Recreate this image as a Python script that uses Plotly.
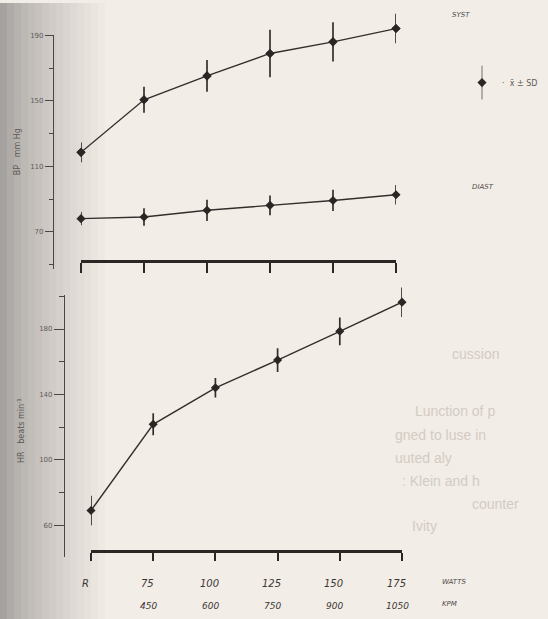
import plotly.graph_objects as go

# ---------------- data ----------------
stages = ["R", "75", "100", "125", "150", "175"]          # work load, watts (R = rest)
kpm = ["", "450", "600", "750", "900", "1050"]             # same loads in kpm
syst_mean = [118.6, 150.7, 165.3, 179.0, 186.1, 194.2]     # systolic BP, mm Hg
syst_sd = [6.0, 8.0, 9.7, 14.5, 12.0, 9.0]
diast_mean = [78.1, 79.1, 83.2, 86.2, 89.2, 92.7]          # diastolic BP, mm Hg
diast_sd = [4.0, 5.3, 6.5, 6.0, 6.5, 6.0]
hr_mean = [69.1, 121.8, 144.1, 161.0, 178.6, 196.4]        # heart rate, beats/min
hr_sd = [9.0, 6.7, 5.9, 7.3, 8.5, 9.0]
bp_ticks = [70, 110, 150, 190]
bp_minor = [50, 90, 130, 170]
hr_ticks = [60, 100, 140, 180]
hr_minor = [80, 120, 160, 200]

W, H = 548, 619


def px(x):
    return x / W


def py(y):
    return 1 - y / H


INK = "#332f2c"
AX = "#4a4643"
LBL = "#605b57"
PXU = 1.645  # pixels per mm Hg / beat (both panels)

fig = go.Figure()

err_style = dict(type="data", width=0, thickness=1.7, color=INK)
mk = dict(symbol="diamond", size=7, color="#2a2624")

fig.add_trace(go.Scatter(
    x=stages, y=syst_mean, error_y=dict(array=syst_sd, **err_style),
    mode="lines+markers", line=dict(color=INK, width=1.4), marker=mk,
    cliponaxis=False, showlegend=False, xaxis="x", yaxis="y"))
fig.add_trace(go.Scatter(
    x=stages, y=diast_mean, error_y=dict(array=diast_sd, **err_style),
    mode="lines+markers", line=dict(color=INK, width=1.4), marker=mk,
    cliponaxis=False, showlegend=False, xaxis="x", yaxis="y"))
fig.add_trace(go.Scatter(
    x=stages, y=syst_mean, mode="markers", marker=mk, name="·  x̄ ± SD",
    cliponaxis=False, showlegend=True, xaxis="x", yaxis="y"))
fig.add_trace(go.Scatter(
    x=stages, y=hr_mean, error_y=dict(array=hr_sd, **err_style),
    mode="lines+markers", line=dict(color=INK, width=1.4), marker=mk,
    cliponaxis=False, showlegend=False, xaxis="x2", yaxis="y2"))
# empty traces so the drawn (shorter) axes exist
fig.add_trace(go.Scatter(x=[], y=[], xaxis="x", yaxis="y3", showlegend=False,
                         hoverinfo="skip"))
fig.add_trace(go.Scatter(x=[], y=[], xaxis="x2", yaxis="y4", showlegend=False,
                         hoverinfo="skip"))

xa_common = dict(type="category", range=[0, 5], anchor="free", showline=True,
                 linecolor="#2b2725", linewidth=2.6, ticks="outside",
                 tickwidth=1.6, tickcolor="#2b2725", showticklabels=False,
                 showgrid=False, zeroline=False)
ya_common = dict(anchor="free", showline=True, linecolor=AX, linewidth=1.2,
                 ticks="outside", tickwidth=1.1, tickcolor=AX,
                 tickfont=dict(size=7, color=LBL, family="DejaVu Sans"),
                 showgrid=False, zeroline=False)

# data axes (invisible, taller so the top error bars are not clipped)
top_lo = 70 - (267 - 230) / PXU
top_hi_data = 70 + (230 - 2) / PXU
top_hi_axis = 70 + (230 - 32) / PXU
bot_lo = 60 - (557 - 525) / PXU
bot_hi_data = 60 + (525 - 268) / PXU
bot_hi_axis = 60 + (525 - 293) / PXU

# shaded paper edge (scan)
shapes = []
n = 16
for i in range(n):
    t = (i / (n - 1)) ** 0.75
    c0 = (165, 162, 159)
    c1 = (243, 237, 231)
    col = tuple(int(c0[k] + (c1[k] - c0[k]) * t) for k in range(3))
    shapes.append(dict(type="rect", xref="paper", yref="paper", layer="below",
                       x0=px(i * 7), x1=px(i * 7 + 7), y0=0, y1=1,
                       line=dict(width=0), fillcolor="rgb(%d,%d,%d)" % col))
# error bar in legend key
shapes.append(dict(type="line", xref="paper", yref="paper",
                   x0=px(482), x1=px(482), y0=py(63), y1=py(97),
                   line=dict(color="#9c9895", width=1.5)))

ann = []
# x labels (two rows)
for i, s in enumerate(stages):
    ann.append(dict(x=i, xref="x2", y=py(583), yref="paper", text=s,
                    showarrow=False, xshift=-6, xanchor="center", yanchor="middle",
                    font=dict(size=10, color="#3b3734", family="DejaVu Sans",
                              style="italic")))
    if kpm[i]:
        ann.append(dict(x=i, xref="x2", y=py(606), yref="paper", text=kpm[i],
                        showarrow=False, xshift=-5, xanchor="center",
                        yanchor="middle",
                        font=dict(size=9, color="#3b3734", family="DejaVu Sans",
                                  style="italic")))
small = dict(size=7, color="#4e4a47", family="DejaVu Sans", style="italic")
ann.append(dict(x=px(440), y=py(582), xref="paper", yref="paper", text="WATTS",
                showarrow=False, xanchor="left", yanchor="middle", font=small))
ann.append(dict(x=px(440), y=py(604), xref="paper", yref="paper", text="KPM",
                showarrow=False, xanchor="left", yanchor="middle", font=small))
ann.append(dict(x=px(450), y=py(12), xref="paper", yref="paper", text="SYST",
                showarrow=False, xanchor="left", yanchor="middle", font=small))
ann.append(dict(x=px(470), y=py(185), xref="paper", yref="paper", text="DIAST",
                showarrow=False, xanchor="left", yanchor="middle", font=small))
# y titles
ann.append(dict(x=px(17), y=py(150), xref="paper", yref="paper",
                text="BP   mm Hg", textangle=-90, showarrow=False,
                xanchor="center", yanchor="middle",
                font=dict(size=8, color="#5c5855", family="DejaVu Sans")))
ann.append(dict(x=px(21), y=py(430), xref="paper", yref="paper",
                text="HR   beats min<sup>-1</sup>", textangle=-90, showarrow=False,
                xanchor="center", yanchor="middle",
                font=dict(size=8, color="#5c5855", family="DejaVu Sans")))
# faint show-through text from the facing page
ghost = dict(size=14, color="#d2cbc4", family="Liberation Sans")
ghost_lines = [(450, 353, "cussion"), (413, 410, "Lunction of p"),
               (393, 434, "gned to luse in"), (393, 457, "uuted aly"),
               (400, 480, ": Klein and h"), (470, 503, "counter"),
               (410, 526, "Ivity")]
for gx, gy, gt in ghost_lines:
    ann.append(dict(x=px(gx), y=py(gy), xref="paper", yref="paper", text=gt,
                    showarrow=False, xanchor="left", yanchor="middle", font=ghost))

fig.update_layout(
    width=W, height=H, margin=dict(l=0, r=0, t=0, b=0),
    paper_bgcolor="#f3ede7", plot_bgcolor="rgba(0,0,0,0)",
    xaxis=dict(domain=[px(81), px(396)], position=py(259), ticklen=10, **xa_common),
    yaxis=dict(domain=[py(267), py(2)], range=[top_lo, top_hi_data],
               visible=False, anchor="free", position=px(53)),
    yaxis3=dict(domain=[py(267), py(32)], range=[top_lo, top_hi_axis], position=px(53),
                ticklen=8, tickvals=bp_ticks, ticktext=[str(v) for v in bp_ticks],
                minor=dict(tickvals=bp_minor, ticks="outside", ticklen=4,
                           tickcolor=AX, showgrid=False),
                **ya_common),
    xaxis2=dict(domain=[px(91), px(402)], position=py(551), ticklen=8, **xa_common),
    yaxis2=dict(domain=[py(557), py(268)], range=[bot_lo, bot_hi_data],
                visible=False, anchor="free", position=px(64)),
    yaxis4=dict(domain=[py(557), py(293)], range=[bot_lo, bot_hi_axis], position=px(64),
                ticklen=10, tickvals=hr_ticks, ticktext=[str(v) for v in hr_ticks],
                minor=dict(tickvals=hr_minor, ticks="outside", ticklen=5,
                           tickcolor=AX, showgrid=False),
                **ya_common),
    legend=dict(x=px(462), y=py(80), xanchor="left", yanchor="middle",
                font=dict(size=8, color=LBL, family="DejaVu Sans"),
                bgcolor="rgba(0,0,0,0)", itemwidth=30),
    shapes=shapes, annotations=ann,
)

fig.write_html("out.html", config={"displayModeBar": False},
               post_script="document.body.style.margin='0';")
